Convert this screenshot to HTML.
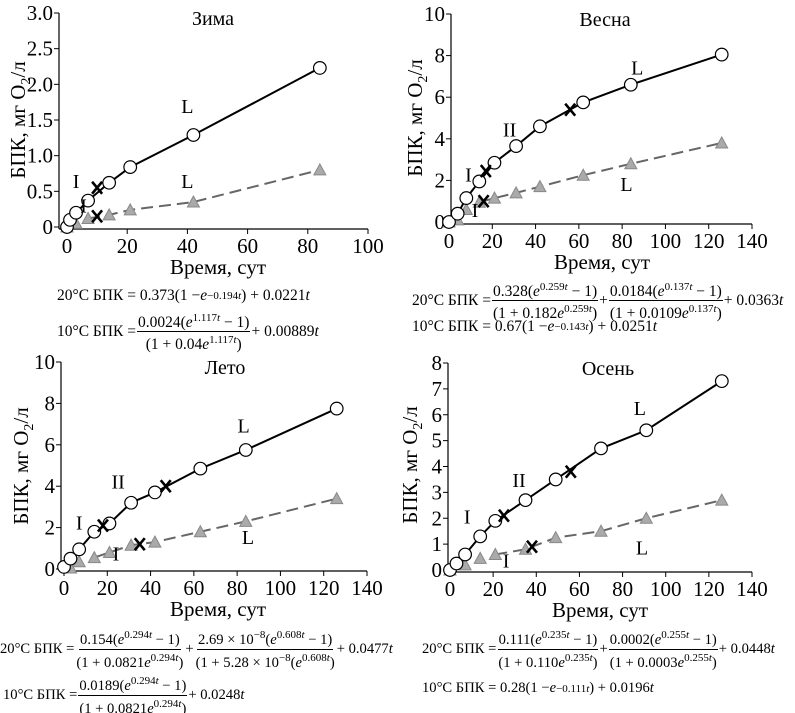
<!DOCTYPE html>
<html><head><meta charset="utf-8">
<style>
body{margin:0;background:#fff;}
#wrap{position:relative;width:795px;height:713px;overflow:hidden;font-family:"Liberation Serif",serif;color:#000;}
svg{position:absolute;left:0;top:0;}
.eq{position:absolute;font-size:15.5px;white-space:nowrap;display:flex;align-items:center;font-family:"Liberation Serif",serif;}
.eq.sm{font-size:14.6px;}
.fr{display:inline-flex;flex-direction:column;align-items:center;margin:0 1px;}
.fr .n{border-bottom:1px solid #000;padding:0 1px;line-height:17px;}
.fr .d{line-height:17px;padding:0 1px;}
sup{font-size:11px;font-style:normal;}
i{font-style:italic;}
</style></head>
<body>
<div id="wrap">
<svg id="svg" width="795" height="713"></svg>

<div class="eq" style="left:57px;top:287px">20°C БПК = 0.373(1 − <i>e</i><sup>−0.194<i>t</i></sup>) + 0.0221<i>t</i></div>
<div class="eq" style="left:57px;top:310px">10°C БПК = <span class="fr"><span class="n">0.0024(<i>e</i><sup>1.117<i>t</i></sup> − 1)</span><span class="d">(1 + 0.04<i>e</i><sup>1.117<i>t</i></sup>)</span></span> + 0.00889<i>t</i></div>

<div class="eq" style="left:412px;top:279px">20°C БПК =<span class="fr"><span class="n">0.328(<i>e</i><sup>0.259<i>t</i></sup> − 1)</span><span class="d">(1 + 0.182<i>e</i><sup>0.259<i>t</i></sup>)</span></span> + <span class="fr"><span class="n">0.0184(<i>e</i><sup>0.137<i>t</i></sup> − 1)</span><span class="d">(1 + 0.0109<i>e</i><sup>0.137<i>t</i></sup>)</span></span> + 0.0363<i>t</i></div>
<div class="eq" style="left:412px;top:318px">10°C БПК = 0.67(1 − <i>e</i><sup>−0.143<i>t</i></sup>) + 0.0251<i>t</i></div>

<div class="eq sm" style="left:0px;top:627px">20°C БПК =<span class="fr"><span class="n">0.154(<i>e</i><sup>0.294<i>t</i></sup> − 1)</span><span class="d">(1 + 0.0821<i>e</i><sup>0.294<i>t</i></sup>)</span></span>+<span class="fr"><span class="n">2.69 × 10<sup>−8</sup>(<i>e</i><sup>0.608<i>t</i></sup> − 1)</span><span class="d">(1 + 5.28 × 10<sup>−8</sup>(<i>e</i><sup>0.608<i>t</i></sup>)</span></span>+ 0.0477<i>t</i></div>
<div class="eq sm" style="left:3px;top:673px">10°C БПК =<span class="fr"><span class="n">0.0189(<i>e</i><sup>0.294<i>t</i></sup> − 1)</span><span class="d">(1 + 0.0821<i>e</i><sup>0.294<i>t</i></sup>)</span></span>+ 0.0248<i>t</i></div>

<div class="eq sm" style="left:422px;top:627px">20°C БПК =<span class="fr"><span class="n">0.111(<i>e</i><sup>0.235<i>t</i></sup> − 1)</span><span class="d">(1 + 0.110<i>e</i><sup>0.235<i>t</i></sup>)</span></span>+<span class="fr"><span class="n">0.0002(<i>e</i><sup>0.255<i>t</i></sup> − 1)</span><span class="d">(1 + 0.0003<i>e</i><sup>0.255<i>t</i></sup>)</span></span>+ 0.0448<i>t</i></div>
<div class="eq sm" style="left:422px;top:680px">10°C БПК = 0.28(1 − <i>e</i><sup>−0.111<i>t</i></sup>) + 0.0196<i>t</i></div>
</div>

<script>
// ---- data ----
const winterT20 = [0,1,3,7,14,21,42,84];
const winterV20 = [0,0.1,0.2,0.37,0.62,0.84,1.29,2.23];
const winterT10 = [0,3,7,14,21,42,84];
const winterV10 = [0,0.05,0.12,0.17,0.24,0.35,0.8];
const winterX = [[10,0.55],[10,0.15]];
const winterTicksX = [0,20,40,60,80,100];
const winterTicksY = [0,0.5,1.0,1.5,2.0,2.5,3.0];

const springT20 = [0,4,8,14,21,31,42,62,84,126];
const springV20 = [0,0.4,1.15,1.95,2.85,3.65,4.6,5.75,6.6,8.05];
const springT10 = [0,4,8,14,21,31,42,62,84,126];
const springV10 = [0,0.1,0.6,0.95,1.15,1.4,1.7,2.25,2.8,3.8];
const springX = [[17,2.45],[56,5.4],[16,1.0]];
const springTicksX = [0,20,40,60,80,100,120,140];
const springTicksY = [0,2,4,6,8,10];

const summerT20 = [0,3,7,14,21,31,42,63,84,126];
const summerV20 = [0.1,0.5,0.95,1.8,2.2,3.2,3.7,4.85,5.75,7.75];
const summerT10 = [3,7,14,21,31,42,63,84,126];
const summerV10 = [0.05,0.35,0.55,0.8,1.15,1.3,1.8,2.3,3.4];
const summerX = [[18,2.1],[47,4.0],[35,1.2]];
const summerTicksX = [0,20,40,60,80,100,120,140];
const summerTicksY = [0,2,4,6,8,10];

const autumnT20 = [0,3,7,14,21,35,49,70,91,126];
const autumnV20 = [0,0.25,0.6,1.3,1.9,2.7,3.5,4.7,5.4,7.3];
const autumnT10 = [0,7,14,21,35,49,70,91,126];
const autumnV10 = [0,0.2,0.45,0.6,0.8,1.25,1.5,2.0,2.7];
const autumnX = [[25,2.1],[56,3.8],[38,0.9]];
const autumnTicksX = [0,20,40,60,80,100,120,140];
const autumnTicksY = [0,1,2,3,4,5,6,7,8];

const NS="http://www.w3.org/2000/svg";
const svg=document.getElementById('svg');
function mk(tag,attrs,parent){const e=document.createElementNS(NS,tag);for(const k in attrs)e.setAttribute(k,attrs[k]);(parent||svg).appendChild(e);return e;}

function panel(p){
  const g=mk('g',{});
  
  
  const xs=v=>p.x0+(v-0)*(p.x1-p.x0)/p.xmax;
  const ys=v=>p.y0-(v)*(p.y0-p.y1)/p.ymax;
  const ax=mk('path',{d:`M${p.ax},${p.y1} V${p.y0+2} M${p.ax},${p.y0+2} H${xs(p.xmax)}`,stroke:'#000','stroke-width':1.2,fill:'none'},g);
  
  
  p.ticksY.forEach(v=>{
    mk('line',{x1:p.ax-5,x2:p.ax,y1:ys(v),y2:ys(v),stroke:'#000'},g);
    const t=mk('text',{x:p.ax-6,y:ys(v)+7,'text-anchor':'end','font-size':21,'font-family':'Liberation Serif, serif'},g);
    t.textContent=p.fmtY(v);
    
    
  });
  p.ticksX.forEach(v=>{
    mk('line',{x1:xs(v),x2:xs(v),y1:p.y0+2,y2:p.y0+7,stroke:'#000'},g);
    const t=mk('text',{x:xs(v),y:p.y0+26,'text-anchor':'middle','font-size':21,'font-family':'Liberation Serif, serif'},g);
    t.textContent=String(v);
    
    
  });
  const xt=mk('text',{x:p.xtx,y:p.y0+47,'text-anchor':'middle','font-size':21,'font-family':'Liberation Serif, serif'},g);
  xt.textContent='Время, сут';
  
  
  const yt=mk('text',{x:0,y:0,'text-anchor':'middle','font-size':21,'font-family':'Liberation Serif, serif',transform:`translate(${p.ytx},${p.yty}) rotate(-90)`},g);
  yt.innerHTML='БПК, мг O<tspan font-size="14" dy="5">2</tspan><tspan dy="-5">/л</tspan>';
  
  
  const tt=mk('text',{x:p.ttx,y:p.y1+12,'text-anchor':'middle','font-size':20,'font-family':'Liberation Serif, serif'},g);
  tt.textContent=p.title;
  
  
  const d10=p.t10.slice(p.dStart).map((t,i)=>`${xs(t)},${ys(p.v10[i+p.dStart])}`).join(' ');
  const dl=mk('polyline',{points:d10,fill:'none',stroke:'#666','stroke-width':2,'stroke-dasharray':'12,6'},g);
  
  
  const s20=p.t20.map((t,i)=>`${xs(t)},${ys(p.v20[i])}`).join(' ');
  const sl=mk('polyline',{points:s20,fill:'none',stroke:'#000','stroke-width':2},g);
  
  
  p.t10.forEach((t,i)=>{
    const cx=xs(t),cy=ys(p.v10[i]);
    const tr=mk('polygon',{points:`${cx},${cy-6} ${cx-6},${cy+5} ${cx+6},${cy+5}`,fill:'#aaa',stroke:'#888','stroke-width':1},g);
    
    
  });
  p.t20.forEach((t,i)=>{
    const c=mk('circle',{cx:xs(t),cy:ys(p.v20[i]),r:6.3,fill:'#fff',stroke:'#000','stroke-width':1.2},g);
    
    
  });
  p.xm.forEach(m=>{
    const cx=xs(m[0]),cy=ys(m[1]);
    const x=mk('path',{d:`M${cx-5},${cy-6} L${cx+5},${cy+6} M${cx+5},${cy-6} L${cx-5},${cy+6}`,stroke:'#000','stroke-width':2.6},g);
    
    
  });
  p.labels.forEach(l=>{
    const t=mk('text',{x:xs(l[1]),y:ys(l[2]),'text-anchor':'middle','font-size':20,'font-family':'Liberation Serif, serif'},g);
    t.textContent=l[0];
    
    
  });
}
const f1=v=>v===0?'0':v.toFixed(1);
const f0=v=>String(v);
panel({name:'winter',title:'Зима',x0:67,x1:368,xmax:100,y0:227,y1:13,ymax:3,ax:59,ticksX:winterTicksX,ticksY:winterTicksY,fmtY:f1,
  t20:winterT20,v20:winterV20,t10:winterT10,v10:winterV10,dStart:2,xm:winterX,xtx:218,ytx:25,yty:120,ttx:213,
  labels:[['I',3,0.55],['L',40,1.6],['L',40,0.55],['I',5.5,0.2]]});
panel({name:'spring',title:'Весна',x0:449,x1:752,xmax:140,y0:222,y1:14,ymax:10,ax:451,ticksX:springTicksX,ticksY:springTicksY,fmtY:f0,
  t20:springT20,v20:springV20,t10:springT10,v10:springV10,dStart:3,xm:springX,xtx:602,ytx:422,yty:118,ttx:605,
  labels:[['I',9,1.95],['II',28,4.1],['L',87,7.1],['L',82,1.5],['I',12,0.25]]});
panel({name:'summer',title:'Лето',x0:64,x1:367,xmax:140,y0:569,y1:362,ymax:10,ax:61,ticksX:summerTicksX,ticksY:summerTicksY,fmtY:f0,
  t20:summerT20,v20:summerV20,t10:summerT10,v10:summerV10,dStart:2,xm:summerX,xtx:218,ytx:28,yty:466,ttx:225,
  labels:[['I',7,1.9],['II',25,3.9],['L',83,6.6],['L',85,1.2],['I',24,0.4]]});
panel({name:'autumn',title:'Осень',x0:450,x1:752,xmax:140,y0:570,y1:363,ymax:8,ax:448,ticksX:autumnTicksX,ticksY:autumnTicksY,fmtY:f0,
  t20:autumnT20,v20:autumnV20,t10:autumnT10,v10:autumnV10,dStart:3,xm:autumnX,xtx:600,ytx:417,yty:465,ttx:608,
  labels:[['I',8,1.8],['II',32,3.2],['L',88,6.0],['L',89,0.6],['I',26,0.1]]});
</script>
</body></html>
